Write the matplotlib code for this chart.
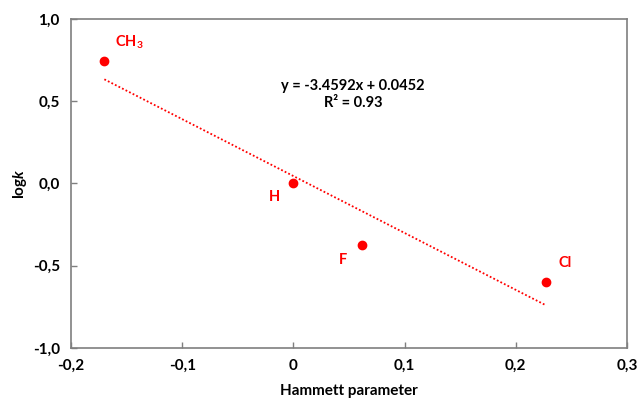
import numpy as np
from matplotlib import pyplot as plt

# dados (substituinte, parâmetro de Hammett, log k)
substituintes = ['CH$_3$', 'H', 'F', 'Cl']
hammett = [-0.17, 0.0, 0.062, 0.227]
logk = [0.742, 0.0, -0.374, -0.599]

# linha de tendência (coeficientes da equação mostrada)
inclinacao = -3.4592
intercepto = 0.0452
r2 = 0.93

# deslocamentos dos rótulos em pontos
desloc = [(18, 14), (-14, -10), (-14, -11), (14, 14)]

plt.rcParams['font.family'] = ['Lato', 'DejaVu Sans']
plt.rcParams['font.weight'] = 'bold'
plt.rcParams['mathtext.fontset'] = 'custom'
plt.rcParams['mathtext.rm'] = 'Lato:bold'
plt.rcParams['mathtext.it'] = 'Lato:bold:italic'
plt.rcParams['mathtext.bf'] = 'Lato:bold'

fig = plt.figure(figsize=(6.38, 3.99), dpi=100)
ax = fig.add_axes([71 / 638, 1 - 348 / 399, 556 / 638, 329 / 399])

cor = '#ff0000'
xs = np.array([min(hammett), max(hammett)])
ax.plot(xs, inclinacao * xs + intercepto, color=cor, lw=1.3, ls=(0, (1, 1.2)))
ax.plot(hammett, logk, 'o', color=cor, ms=6, ls='none')

for nome, x, y, d in zip(substituintes, hammett, logk, desloc):
    ax.annotate(nome, (x, y), xytext=d, textcoords='offset points',
                ha='center', va='center', color=cor, fontsize=10.5, fontweight='bold')

ax.text(0.0535, 0.595, f'y = {inclinacao}x + {intercepto}', ha='center', va='center',
        fontsize=10.5, fontweight='bold')
ax.text(0.0535, 0.49, f'R² = {r2}', ha='center', va='center', fontsize=10.5, fontweight='bold')

ax.set_xlim(-0.2, 0.3)
ax.set_ylim(-1.0, 1.0)
ax.set_xticks([-0.2, -0.1, 0, 0.1, 0.2, 0.3])
ax.set_xticklabels(['-0,2', '-0,1', '0', '0,1', '0,2', '0,3'])
ax.set_yticks([-1.0, -0.5, 0.0, 0.5, 1.0])
ax.set_yticklabels(['-1,0', '-0,5', '0,0', '0,5', '1,0'])
ax.tick_params(direction='in', length=4, width=1, color='#7f7f7f', labelsize=11, pad=8)
for lbl in ax.get_xticklabels() + ax.get_yticklabels():
    lbl.set_fontweight('bold')
for s in ax.spines.values():
    s.set_color('#7f7f7f')
    s.set_linewidth(1.2)

ax.set_xlabel('Hammett parameter', fontsize=11, fontweight='bold', labelpad=8)
ax.set_ylabel(r'log$\mathit{k}$', fontsize=11, fontweight='bold', labelpad=3)

fig.savefig('out.png', dpi=100)
